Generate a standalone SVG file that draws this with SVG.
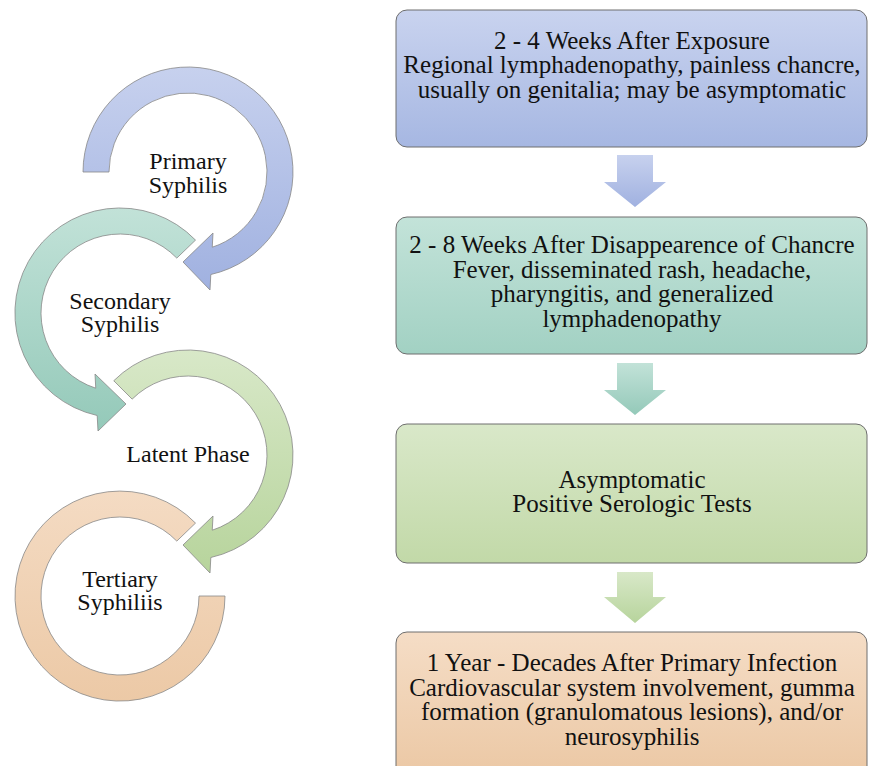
<svg xmlns="http://www.w3.org/2000/svg" width="869" height="766" viewBox="0 0 869 766">
<defs>
<linearGradient id="gBlue" x1="0" y1="0" x2="0" y2="1"><stop offset="0" stop-color="#c9d3ef"/><stop offset="1" stop-color="#a6b7e2"/></linearGradient>
<linearGradient id="gTeal" x1="0" y1="0" x2="0" y2="1"><stop offset="0" stop-color="#c3e3d9"/><stop offset="1" stop-color="#a2d1c3"/></linearGradient>
<linearGradient id="gGreen" x1="0" y1="0" x2="0" y2="1"><stop offset="0" stop-color="#d9e8c9"/><stop offset="1" stop-color="#c2d9a8"/></linearGradient>
<linearGradient id="gOrange" x1="0" y1="0" x2="0" y2="1"><stop offset="0" stop-color="#f5ddc6"/><stop offset="1" stop-color="#ebc7a3"/></linearGradient>
<linearGradient id="rBlue" x1="0" y1="0" x2="0" y2="1"><stop offset="0" stop-color="#c7d1ee"/><stop offset="1" stop-color="#a0b1e0"/></linearGradient>
<linearGradient id="rTeal" x1="0" y1="0" x2="0" y2="1"><stop offset="0" stop-color="#c2e2d8"/><stop offset="1" stop-color="#94c9b9"/></linearGradient>
<linearGradient id="rGreen" x1="0" y1="0" x2="0" y2="1"><stop offset="0" stop-color="#d8e8c8"/><stop offset="1" stop-color="#b7d49c"/></linearGradient>
<linearGradient id="rOrange" x1="0" y1="0" x2="0" y2="1"><stop offset="0" stop-color="#f4dbc3"/><stop offset="1" stop-color="#ecc9a6"/></linearGradient>
</defs>
<style>
.box{stroke:#6e6e6e;stroke-width:1}
.ring{stroke:#888;stroke-width:0.8}
.t{font-family:"Liberation Serif","Times New Roman",serif;font-size:25px;fill:#111;text-anchor:middle}
.l{font-family:"Liberation Serif","Times New Roman",serif;font-size:24px;fill:#111;text-anchor:middle}
</style>
<rect width="869" height="766" fill="#ffffff"/>

<g id="cycle-primary">
<path class="ring" fill="url(#rBlue)" d="M 83 172 A 105 105 0 1 1 210.8 274.5 L 210 290 L 183 262 L 213 233 L 212.25 247.2 A 79 79 0 1 0 109 172 Z"/>
<text class="l" x="188" y="169">Primary</text>
<text class="l" x="188" y="192.5">Syphilis</text>
</g>
<g id="cycle-secondary">
<path class="ring" fill="url(#rTeal)" d="M 195.5 240.1 A 105 105 0 1 0 97.2 415.5 L 98 431 L 126 404 L 95 374 L 95.75 388.2 A 79 79 0 1 1 176.8 258.1 Z"/>
<text class="l" x="120" y="308.5">Secondary</text>
<text class="l" x="120" y="332">Syphilis</text>
</g>
<g id="cycle-latent">
<path class="ring" fill="url(#rGreen)" d="M 113.75 380.75 A 105 105 0 1 1 210.8 557.5 L 210 573 L 183 545 L 213 516 L 212.25 530.2 A 79 79 0 1 0 132.14 399.14 Z"/>
<text class="l" x="188" y="461.5">Latent Phase</text>
</g>
<g id="cycle-tertiary">
<path class="ring" fill="url(#rOrange)" d="M 225 596 A 105 105 0 1 1 195.5 523.1 L 176.8 541.1 A 79 79 0 1 0 199 596 Z"/>
<text class="l" x="120" y="586.5">Tertiary</text>
<text class="l" x="120" y="610">Syphiliis</text>
</g>

<g id="box-primary">
<rect class="box" x="396" y="10" width="471" height="137" rx="11" fill="url(#gBlue)"/>
<text class="t" x="632" y="48.5">2 - 4 Weeks After Exposure</text>
<text class="t" x="632" y="73">Regional lymphadenopathy, painless chancre,</text>
<text class="t" x="632" y="97.5">usually on genitalia; may be asymptomatic</text>
</g>
<g id="box-secondary">
<rect class="box" x="396" y="217" width="471" height="137" rx="11" fill="url(#gTeal)"/>
<text class="t" x="632" y="253">2 - 8 Weeks After Disappearence of Chancre</text>
<text class="t" x="632" y="277.5">Fever, disseminated rash, headache,</text>
<text class="t" x="632" y="302">pharyngitis, and generalized</text>
<text class="t" x="632" y="326.5">lymphadenopathy</text>
</g>
<g id="box-latent">
<rect class="box" x="396" y="424" width="471" height="139" rx="11" fill="url(#gGreen)"/>
<text class="t" x="632" y="487.5">Asymptomatic</text>
<text class="t" x="632" y="512">Positive Serologic Tests</text>
</g>
<g id="box-tertiary">
<rect class="box" x="396" y="632" width="471" height="150" rx="11" fill="url(#gOrange)"/>
<text class="t" x="632" y="671">1 Year - Decades After Primary Infection</text>
<text class="t" x="632" y="695.5">Cardiovascular system involvement, gumma</text>
<text class="t" x="632" y="720">formation (granulomatous lesions), and/or</text>
<text class="t" x="632" y="744.5">neurosyphilis</text>
</g>

<g id="connectors">
<path fill="url(#rBlue)" d="M 617 155 H 653 V 182 H 666 L 635 207 L 604 182 H 617 Z"/>
<path fill="url(#rTeal)" d="M 617 363 H 653 V 390 H 666 L 635 415 L 604 390 H 617 Z"/>
<path fill="url(#rGreen)" d="M 617 572 H 653 V 597 H 666 L 635 623 L 604 597 H 617 Z"/>
</g>
</svg>
